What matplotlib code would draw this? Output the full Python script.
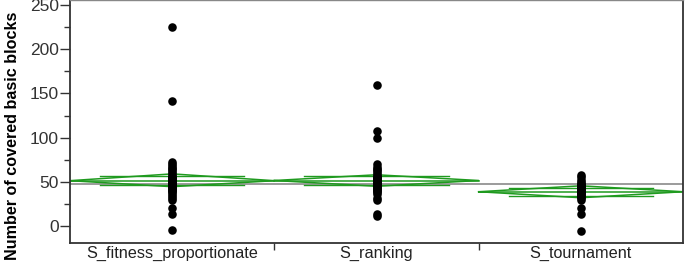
import matplotlib.pyplot as plt
import numpy as np
from matplotlib.ticker import MultipleLocator, FixedLocator

plt.rcParams['font.family'] = ['Liberation Sans', 'DejaVu Sans']

groups = ['S_fitness_proportionate', 'S_ranking', 'S_tournament']

fitness = [225, 142, 72, 70, 68, 66, 64, 62, 60, 58, 56, 55, 54, 53, 52, 51, 50,
           49, 48, 47, 46, 45, 44, 43, 42, 41, 40, 38, 36, 34, 32, 30, 20, 14, -4]
ranking = [160, 108, 100, 70, 67, 65, 63, 61, 59, 57, 56, 55, 54, 53, 52, 51, 50,
           49, 48, 47, 46, 45, 44, 43, 42, 41, 40, 38, 36, 32, 30, 14, 11]
tournament = [58, 55, 52, 50, 48, 47, 46, 45, 44, 43, 42, 41, 40, 39, 38, 37, 36,
              35, 34, 33, 32, 30, 20, 14, -6]

# means diamonds: mean and 95% CI
means = [51.3, 51.5, 38.8]
ci_low = [44.5, 45.0, 32.0]
ci_high = [59.0, 58.0, 45.5]
grand_mean = 47.5

green = '#1f9a1f'

fig = plt.figure(figsize=(6.85, 2.65), dpi=100)
ax = fig.add_axes([70 / 685, 22 / 265, 613 / 685, 243 / 265])

for i, vals in enumerate([fitness, ranking, tournament]):
    x0, xc, x1 = i, i + 0.5, i + 1
    m, lo, hi = means[i], ci_low[i], ci_high[i]
    # diamond
    ax.plot([x0, xc, x1, xc, x0], [m, hi, m, lo, m], color=green, lw=1.1, zorder=2)
    ax.plot([x0, x1], [m, m], color=green, lw=1.1, zorder=2)
    # overlap marks
    d = (hi - m) / np.sqrt(2)
    w = 0.5 * (1 - d / (hi - m))
    ax.plot([x0 + w, x1 - w], [m + d, m + d], color=green, lw=1.0, zorder=2)
    ax.plot([x0 + w, x1 - w], [m - d, m - d], color=green, lw=1.0, zorder=2)
    ax.scatter(np.full(len(vals), xc), vals, s=38, color='black', zorder=3, linewidths=0)

ax.axhline(grand_mean, color='#8a8a8a', lw=1.2, zorder=1)

ax.set_xlim(0, 3)
ax.set_ylim(-19.2, 255.7)
ax.yaxis.set_major_locator(MultipleLocator(50))
ax.yaxis.set_minor_locator(MultipleLocator(25))
ax.tick_params(axis='y', which='major', length=7, width=1, labelsize=12.5, pad=1,
               colors='#333333', labelcolor='#333333')
ax.tick_params(axis='y', which='minor', length=4, width=1, colors='#333333')

ax.xaxis.set_major_locator(FixedLocator([1, 2]))
ax.xaxis.set_major_formatter(plt.NullFormatter())
ax.xaxis.set_minor_locator(FixedLocator([0.5, 1.5, 2.5]))
ax.set_xticklabels(groups, minor=True)
ax.tick_params(axis='x', which='major', length=5, width=1, colors='#333333')
ax.tick_params(axis='x', which='minor', length=0, labelsize=11.7, pad=2,
               labelcolor='#222222')

ax.set_ylabel('Number of covered basic blocks', fontsize=11.6, fontweight='bold')
ax.yaxis.set_label_coords(-0.082, 0.44)

for side in ['left', 'bottom', 'right']:
    ax.spines[side].set_color('#333333')
    ax.spines[side].set_linewidth(1.3)
ax.spines['top'].set_color('#888888')
ax.spines['top'].set_linewidth(1.0)

fig.savefig('out.png', dpi=100)
